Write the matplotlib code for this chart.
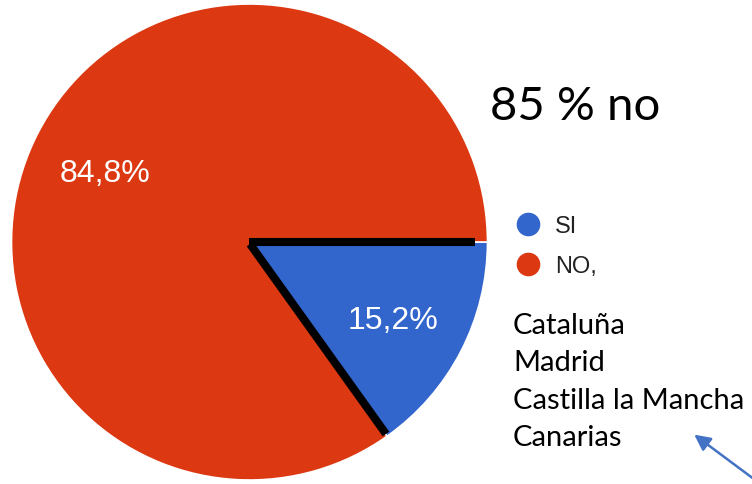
import matplotlib
matplotlib.use('Agg')
import matplotlib.pyplot as plt
from matplotlib.lines import Line2D

labels = ['SI', 'NO,']
values = [15.2, 84.8]
colors = ['#3366CC', '#DC3912']
regiones = ['Cataluña', 'Madrid', 'Castilla la Mancha', 'Canarias']

fig = plt.figure(figsize=(7.52, 4.85), dpi=100)
ax = fig.add_axes([0, 0, 1, 1])

# axes in pixel units, y runs downward
cx, cy, r = 249.5, 243, 238
wedges, texts, autotexts = ax.pie(
    values, colors=colors, startangle=0, counterclock=True,
    center=(cx, cy), radius=r, pctdistance=0.72,
    autopct=lambda p: f'{p:.1f}%'.replace('.', ','),
    wedgeprops=dict(edgecolor='white', linewidth=1.2),
    textprops=dict(color='white', fontsize=23, family='Liberation Sans'))
# percentage labels sit a little off the slice bisectors
autotexts[0].set_position((393, 321))
autotexts[1].set_position((105, 174))

ax.set_xlim(0, 752)
ax.set_ylim(485, 0)
ax.set_aspect('equal')
ax.axis('off')

# thick black marker along the edges of the SI slice
ax.plot([cx - 1, 475], [243, 243], color='black', lw=5.8, solid_capstyle='butt')
ax.plot([250, 386], [245, 435], color='black', lw=5.8, solid_capstyle='butt')

ax.text(490, 120, '85 % no', fontsize=34, family='Lato', color='black')

handles = [Line2D([], [], marker='o', ls='none', markersize=16,
                  markerfacecolor=c, markeredgecolor=c) for c in colors]
ax.legend(handles, labels, loc='upper left', bbox_to_anchor=(483 / 752, 1 - 195 / 485),
          frameon=False, handletextpad=0.15, labelspacing=0.75,
          prop=dict(family='Liberation Sans', size=17), labelcolor='#222222')

for i, reg in enumerate(regiones):
    ax.text(513, 334 + i * 37.5, reg, fontsize=21, family='Lato', color='black')

ax.annotate('', xy=(692, 434), xytext=(770, 492),
            arrowprops=dict(arrowstyle='-|>', color='#4472C4', lw=1.8,
                            mutation_scale=24))

fig.savefig('out.png', dpi=100)
